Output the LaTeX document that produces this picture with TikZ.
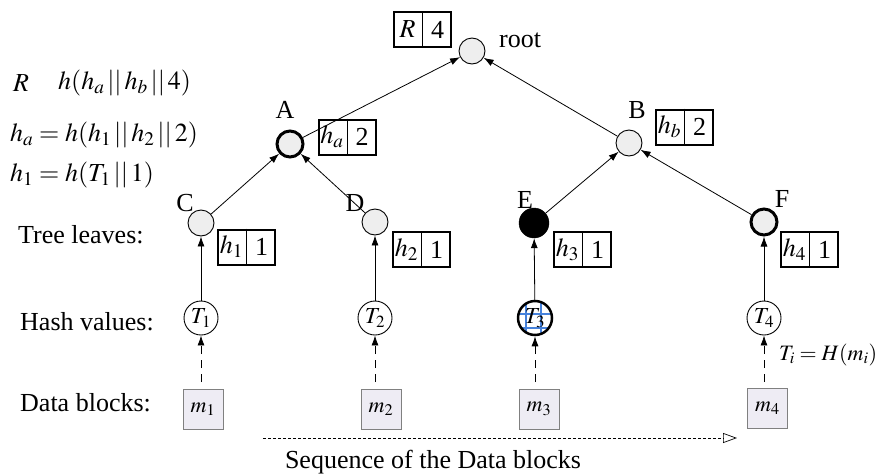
\documentclass[tikz,border=0pt]{standalone}
\usepackage{mathptmx}
\usepackage[no-math]{fontspec}
\setmainfont{Liberation Serif}
\usetikzlibrary{arrows.meta,calc}
\definecolor{nodegray}{RGB}{238,238,238}
\definecolor{blockfill}{RGB}{238,236,244}
\definecolor{gridblue}{RGB}{70,130,220}
\tikzset{
  txt/.style={inner sep=0pt, font=\fontsize{26}{30}\selectfont},
  smalltxt/.style={inner sep=0pt, font=\fontsize{22}{26}\selectfont},
  treenode/.style={circle, draw, fill=nodegray, minimum size=26pt, inner sep=0pt, line width=0.9pt},
  boldnode/.style={treenode, line width=3pt},
  leafblack/.style={circle, draw, fill=black, minimum size=30pt, inner sep=0pt},
  hashnode/.style={circle, draw, minimum size=34pt, inner sep=0pt, line width=0.9pt, font=\fontsize{23}{27}\selectfont},
  blocknode/.style={rectangle, draw=gray, fill=blockfill, minimum size=40pt, inner sep=0pt, line width=0.9pt, font=\fontsize{22}{26}\selectfont},
  lblbox/.style={rectangle, draw, line width=2pt, minimum width=57pt, minimum height=35pt, inner sep=0pt},
  tarrow/.style={-{Latex[length=10pt,width=7pt]}, line width=0.8pt},
  darrow/.style={-{Latex[length=10pt,width=7pt]}, line width=0.8pt, dash pattern=on 8pt off 6pt},
  seqarrow/.style={-{Triangle[open,length=14pt,width=10pt]}, line width=0.7pt, dash pattern=on 3pt off 2pt},
}
\newcommand{\lbox}[4]{%
  \node[lblbox] (#1) at (#2) {};
  \draw[line width=0.8pt] (#1.north) -- (#1.south);
  \node[txt] at ($(#1.center)+(-15,0)$) {#3};
  \node[txt] at ($(#1.center)+(15,0)$) {#4};
}
\begin{document}
\begin{tikzpicture}[x=1pt,y=-1pt]
\useasboundingbox (0,0) rectangle (878,474);

% formulas
\node[txt, anchor=west] (fR) at (13,83) {$R$};
\node[txt, anchor=west] (fR2) at (58,83) {$h(h_a \,||\, h_b \,||\, 4)$};
\node[txt, anchor=west] (fa) at (10,135) {$h_a = h(h_1 \,||\, h_2 \,||\, 2)$};
\node[txt, anchor=west] (f1) at (10,175) {$h_1 = h(T_1 \,||\, 1)$};

% row labels
\node[txt, anchor=west] (lt) at (18,235) {Tree leaves:};
\node[txt, anchor=west] (lh) at (20,322) {Hash values:};
\node[txt, anchor=west] (ld) at (20,403) {Data blocks:};

% tree nodes
\node[treenode] (root) at (472,51) {};
\node[txt, anchor=base west] (rootlbl) at (499,47) {root};
\node[boldnode] (A) at (290,144) {};
\node[treenode] (B) at (629,143) {};
\node[treenode] (C) at (201,223) {};
\node[treenode] (D) at (375,222) {};
\node[leafblack] (E) at (534,223) {};
\node[boldnode] (F) at (764,222) {};

\node[txt] (Al) at (285,110) {A};
\node[txt] (Bl) at (637,110) {B};
\node[txt] (Cl) at (185,203) {C};
\node[txt] (Dl) at (355,203) {D};
\node[txt] (El) at (525,200) {E};
\node[txt] (Fl) at (782,199) {F};

% label boxes
\lbox{bR}{422.5,29.5}{$R$}{4}
\lbox{bA}{347,137}{$h_a$}{2}
\lbox{bB}{684.5,127}{$h_b$}{2}
\lbox{b1}{246.5,247}{$h_1$}{1}
\lbox{b2}{421.5,249.5}{$h_2$}{1}
\lbox{b3}{582.5,249.5}{$h_3$}{1}
\lbox{b4}{809.5,249.5}{$h_4$}{1}

% hash values
\node[hashnode] (T1) at (201,318) {$T_1$};
\node[hashnode] (T2) at (375,318) {$T_2$};
\coordinate (T3c) at (535,318);
\begin{scope}
  \clip (T3c) circle[radius=17pt];
  \draw[gridblue, line width=1.3pt]
    ($(T3c)+(-9,-20)$) -- ($(T3c)+(-9,20)$)
    ($(T3c)+(6,-20)$) -- ($(T3c)+(6,20)$)
    ($(T3c)+(-20,-4)$) -- ($(T3c)+(20,-4)$)
    ($(T3c)+(-20,10)$) -- ($(T3c)+(20,10)$);
\end{scope}
\node[hashnode, line width=2.5pt] (T3) at (T3c) {$T_3$};
\node[hashnode] (T4) at (764,318) {$T_4$};

% data blocks
\node[blocknode] (m1) at (203,409) {$m_1$};
\node[blocknode] (m2) at (381,409) {$m_2$};
\node[blocknode] (m3) at (539,409) {$m_3$};
\node[blocknode] (m4) at (767.5,408) {$m_4$};

\node[smalltxt, anchor=west] (Ti) at (779,355) {$T_i = H(m_i)$};

% tree arrows
\draw[tarrow] (C) -- (A);
\draw[tarrow] (D) -- (A);
\draw[tarrow] (A) -- (root);
\draw[tarrow] (B) -- (root);
\draw[tarrow] (E) -- (B);
\draw[tarrow] (F) -- (B);

% hash to leaves
\draw[tarrow] (T1) -- (C);
\draw[tarrow] (T2) -- (D);
\draw[tarrow] (T3) -- (E);
\draw[tarrow] (T4) -- (F);

% blocks to hashes
\draw[darrow] (T1.south |- 0,382) -- (T1.south);
\draw[darrow] (T2.south |- 0,382) -- (T2.south);
\draw[darrow] (T3.south |- 0,382) -- (T3.south);
\draw[darrow] (T4.south |- 0,382) -- (T4.south);

% sequence
\coordinate (s0) at (263,438);
\coordinate (s1) at (737,438);
\draw[seqarrow] (s0) -- (s1);
\node[txt] (seq) at (433,462) {Sequence of the Data blocks};
\end{tikzpicture}
\end{document}
